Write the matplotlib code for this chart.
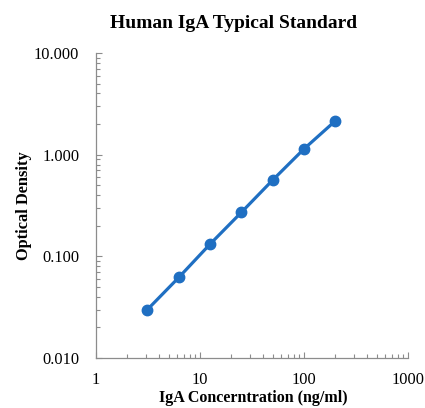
import matplotlib
matplotlib.use("Agg")
import matplotlib.pyplot as plt
from matplotlib.ticker import LogLocator, FixedLocator, FixedFormatter, NullFormatter

conc = [3.125, 6.25, 12.5, 25, 50, 100, 200]
od = [0.030, 0.062, 0.132, 0.271, 0.563, 1.14, 2.15]
xticks = [1, 10, 100, 1000]
xlabels = ["1", "10", "100", "1000"]
yticks = [0.01, 0.1, 1, 10]
ylabels = ["0.010", "0.100", "1.000", "10.000"]

plt.rcParams['font.family'] = ['Liberation Serif', 'DejaVu Serif']
fig = plt.figure(figsize=(4.25, 4.08), dpi=100)
ax = fig.add_axes([96 / 425, 0.1225, 312 / 425, 0.7475])
color = '#1f6fc2'
ax.plot(conc, od, '-', color=color, lw=2.3, marker='o', ms=7.5, mfc=color, mec=color)
ax.set_xscale('log')
ax.set_yscale('log')
ax.set_xlim(1, 1000)
ax.set_ylim(0.01, 10)
ax.xaxis.set_major_locator(FixedLocator(xticks))
ax.xaxis.set_major_formatter(FixedFormatter(xlabels))
ax.yaxis.set_major_locator(FixedLocator(yticks))
ax.yaxis.set_major_formatter(FixedFormatter(ylabels))
ax.xaxis.set_minor_locator(LogLocator(base=10, subs=range(2, 10)))
ax.yaxis.set_minor_locator(LogLocator(base=10, subs=range(2, 10)))
ax.xaxis.set_minor_formatter(NullFormatter())
ax.yaxis.set_minor_formatter(NullFormatter())
for s in ['top', 'right']:
    ax.spines[s].set_visible(False)
for s in ['left', 'bottom']:
    ax.spines[s].set_color('#8c8c8c')
    ax.spines[s].set_linewidth(0.9)
ax.tick_params(which='both', direction='in', color='#8c8c8c', labelsize=11.8, width=0.8)
ax.tick_params(which='major', length=4)
ax.tick_params(axis='y', which='major', pad=12)
ax.tick_params(axis='x', which='major', pad=10)
ax.tick_params(which='minor', length=3)
ax.set_xlabel('IgA Concerntration (ng/ml)', fontsize=11.5, fontweight='bold')
ax.xaxis.set_label_coords(253 / 425, 1 - 390 / 408, transform=fig.transFigure)
ax.set_ylabel('Optical Density', fontsize=11.8, fontweight='bold')
ax.yaxis.set_label_coords(32 / 425, 1 - 206 / 408, transform=fig.transFigure)
fig.text(234 / 425, 1 - 23 / 408, 'Human IgA Typical Standard', fontsize=14,
         fontweight='bold', ha='center', va='center')
fig.savefig('out.png', dpi=100)
